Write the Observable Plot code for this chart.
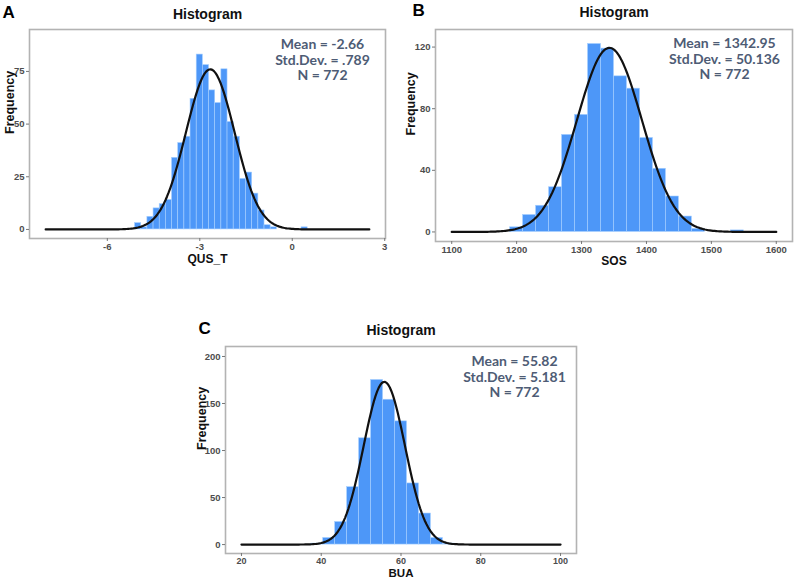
<!DOCTYPE html>
<html><head><meta charset="utf-8">
<script src="https://cdn.jsdelivr.net/npm/d3@7"></script>
<script src="https://cdn.jsdelivr.net/npm/@observablehq/plot@0.6"></script>
<style>
body{margin:0;background:#fff;}
#wrap{position:relative;width:795px;height:579px;overflow:hidden;background:#fff;}
.panel{position:absolute;}
</style></head><body><div id="wrap"></div>
<script>
// Panel A: QUS_T
const qusBins   = [-5.0,-4.8,-4.6,-4.4,-4.2,-4.0,-3.8,-3.6,-3.4,-3.2,-3.0,-2.8,-2.6,-2.4,-2.2,-2.0,-1.8,-1.6,-1.4,-1.2,-1.0,-0.8,-0.6,0.4];
const qusCounts = [3,1,6,10,12,14,34,41,44,62,83,78,66,60,76,51,44,24,27,17,9,2,1,1];
const qusBinWidth = 0.2;
const qusStats = {mean: -2.66, sd: 0.789, n: 772, peak: 76, from: -8, to: 2.5};
const qusXTicks = [-6,-3,0,3];
const qusYTicks = [0,25,50,75];
const qusText = ["Mean = -2.66","Std.Dev. = .789","N = 772"];

// Panel B: SOS
const sosBins   = [1200,1220,1240,1260,1280,1300,1320,1340,1360,1380,1400,1420,1440,1460,1480,1540];
const sosCounts = [3,11,17,29,63,76,122,119,101,93,61,41,23,10,2,1];
const sosBinWidth = 20;
const sosStats = {mean: 1342.95, sd: 50.136, n: 772, peak: 119.5, from: 1100, to: 1600};
const sosXTicks = [1100,1200,1300,1400,1500,1600];
const sosYTicks = [0,40,80,120];
const sosText = ["Mean = 1342.95","Std.Dev. = 50.136","N = 772"];

// Panel C: BUA
const buaBins   = [39,42,45,48,51,54,57,60,63,66,69,72];
const buaCounts = [1,7,24,61,113,175,154,131,65,33,7,1];
const buaBinWidth = 3;
const buaStats = {mean: 55.82, sd: 5.181, n: 772, peak: 173, from: 20, to: 100};
const buaXTicks = [20,40,60,80,100];
const buaYTicks = [0,50,100,150,200];
const buaText = ["Mean = 55.82","Std.Dev. = 5.181","N = 772"];

const FONT = "'Liberation Sans', Arial, sans-serif";
const ANNOT_FONT = "Lato, 'Noto Sans', sans-serif";

function normalCurve(s) {
  const pts = [];
  const steps = 200;
  for (let i = 0; i <= steps; i++) {
    const x = s.from + (s.to - s.from) * i / steps;
    const z = (x - s.mean) / s.sd;
    pts.push({x, y: s.peak * Math.exp(-0.5 * z * z)});
  }
  return pts;
}

function panel(cfg) {
  const data = cfg.bins.map((c, i) => ({c, n: cfg.counts[i]}));
  const bw = cfg.bw;
  const annotMarks = cfg.annot.map((line, i) =>
    Plot.text([line], {text: d => d, frameAnchor: "top-right", dx: cfg.annotDx, dy: cfg.annotDy + i * 15.7, lineAnchor: "middle", textAnchor: "middle", fontSize: 14, fontWeight: "bold", fill: "#4e5c75", fontFamily: ANNOT_FONT}));
  const chart = Plot.plot({
    width: cfg.width, height: cfg.height,
    marginLeft: cfg.m[0], marginRight: cfg.m[1], marginTop: cfg.m[2], marginBottom: cfg.m[3],
    x: {domain: cfg.xDomain},
    y: {domain: cfg.yDomain},
    style: {fontFamily: FONT, background: "white", overflow: "visible"},
    marks: [
      Plot.rectY(data, {x1: d => d.c - bw/2, x2: d => d.c + bw/2, y: "n", fill: "#4d97f8", stroke: "#a6cfff", strokeWidth: 0.6}),
      Plot.line(normalCurve(cfg.stats), {x: "x", y: "y", stroke: "#111", strokeWidth: 2.2}),
      Plot.frame({stroke: "#b3b3b3", strokeWidth: 1.6}),
      Plot.axisX({ticks: cfg.xTicks, tickFormat: d => String(d), tickSize: 3, tickPadding: cfg.xTickPad, fontSize: cfg.xTickFont, fontWeight: "bold", fill: "#4d4d4d", stroke: "#777", label: null}),
      Plot.axisY({ticks: cfg.yTicks, tickFormat: d => String(d), tickSize: 3, tickPadding: 2, fontSize: 9.5, fontWeight: "bold", fill: "#4d4d4d", stroke: "#777", label: null}),
      Plot.text([cfg.xLabel], {text: d => d, frameAnchor: "bottom", dy: cfg.xLabelDy, lineAnchor: "middle", fontSize: cfg.xLabelFont, fontWeight: "bold", fill: "#111"}),
      Plot.text(["Frequency"], {text: d => d, frameAnchor: "left", dx: cfg.yLabelDx, rotate: -90, lineAnchor: "middle", fontSize: 12.5, fontWeight: "bold", fill: "#111"}),
      Plot.text(["Histogram"], {text: d => d, frameAnchor: "top", dy: cfg.titleDy, lineAnchor: "bottom", fontSize: 14, fontWeight: "bold", fill: "#111"}),
      Plot.text([cfg.letter], {text: d => d, frameAnchor: "top-left", textAnchor: "start", dx: cfg.letterDx, dy: cfg.letterDy, lineAnchor: "bottom", fontSize: 17, fontWeight: "bold", fill: "#000"}),
      ...annotMarks
    ]
  });
  chart.classList.add("panel");
  chart.style.left = cfg.left + "px";
  chart.style.top = cfg.top + "px";
  document.getElementById("wrap").appendChild(chart);
}

panel({bins: qusBins, counts: qusCounts, bw: qusBinWidth, stats: qusStats, xTicks: qusXTicks, yTicks: qusYTicks, annot: qusText,
  xLabel: "QUS_T", letter: "A", left: 0, top: 0, width: 400, height: 270, m: [29, 15, 29, 32],
  xDomain: [-8.525, 3.025], yDomain: [-4.3, 94.9], xLabelDy: 21, xLabelFont: 12, xTickFont: 9.5, xTickPad: 1.5,
  yLabelDx: -20, titleDy: -11, letterDx: -27, letterDy: -12, annotDx: -63, annotDy: 15});

panel({bins: sosBins, counts: sosCounts, bw: sosBinWidth, stats: sosStats, xTicks: sosXTicks, yTicks: sosYTicks, annot: sosText,
  xLabel: "SOS", letter: "B", left: 400, top: 0, width: 395, height: 270, m: [35, 3, 29, 29],
  xDomain: [1075, 1625], yDomain: [-6.2, 131.4], xLabelDy: 20, xLabelFont: 12, xTickFont: 9.5, xTickPad: 1.5,
  yLabelDx: -25, titleDy: -12.5, letterDx: -23, letterDy: -14, annotDx: -68, annotDy: 14});

panel({bins: buaBins, counts: buaCounts, bw: buaBinWidth, stats: buaStats, xTicks: buaXTicks, yTicks: buaYTicks, annot: buaText,
  xLabel: "BUA", letter: "C", left: 190, top: 290, width: 410, height: 289, m: [35, 24, 56, 26],
  xDomain: [16, 104], yDomain: [-9.5, 210.6], xLabelDy: 19.5, xLabelFont: 11.5, xTickFont: 9, xTickPad: 1,
  yLabelDx: -24, titleDy: -12, letterDx: -27, letterDy: -13, annotDx: -62, annotDy: 15});
</script>
</body></html>
